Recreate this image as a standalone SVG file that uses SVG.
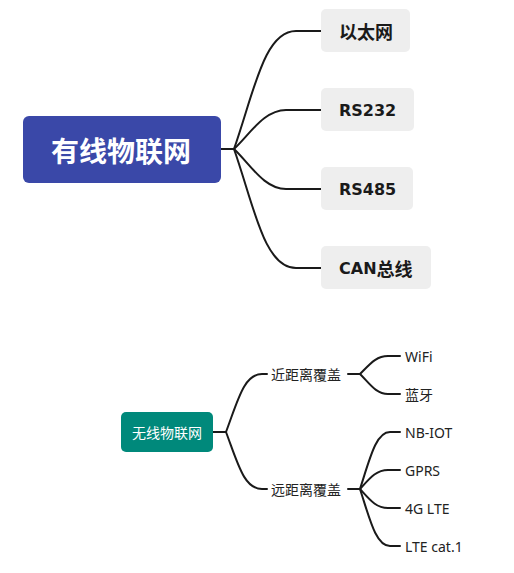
<svg xmlns="http://www.w3.org/2000/svg" width="514" height="573" viewBox="0 0 514 573">
<style>
.conn{fill:none;stroke:#1a1a1a;stroke-width:2;stroke-linecap:round}
.leaf{fill:#eeeeee}
.t1{font-family:"DejaVu Sans","Noto Sans CJK SC",sans-serif;font-weight:bold;font-size:16px;fill:#1a1a1a;dominant-baseline:central}
.cj{font-family:"Noto Sans CJK SC",sans-serif;font-size:18px}
.t2{font-family:"Noto Sans","Noto Sans CJK SC",sans-serif;font-size:14px;fill:#222;dominant-baseline:central}
.root{font-family:"Noto Sans CJK SC","Noto Sans",sans-serif;fill:#fff;dominant-baseline:central;text-anchor:middle}
</style>
<rect width="514" height="573" fill="#fff"/>
<g id="connectors">
<path class="conn" d="M221,149 H234 C254,92 264,31 296,31 H321"/>
<path class="conn" d="M234,149 C250,134 264,110 286,110 H321"/>
<path class="conn" d="M234,149 C250,164 264,189 286,189 H321"/>
<path class="conn" d="M234,149 C254,206 264,268 296,268 H321"/>
<path class="conn" d="M213,432 H226 C238,400 244,374 262,374 H267"/>
<path class="conn" d="M226,432 C238,464 244,489 262,489 H267"/>
<path class="conn" d="M348,374 H360 C370,364 376,356 388,356 H400"/>
<path class="conn" d="M360,374 C370,384 376,394 388,394 H400"/>
<path class="conn" d="M348,489 H360 C370,458 376,432 390,432 H400"/>
<path class="conn" d="M360,489 C370,478 376,470 388,470 H400"/>
<path class="conn" d="M360,489 C370,500 376,508 388,508 H400"/>
<path class="conn" d="M360,489 C370,520 376,546 390,546 H400"/>
</g>
<g id="wired">
<rect x="23" y="116" width="198" height="67" rx="6" fill="#3a48a8"/>
<text class="root" x="121" y="150" font-size="28" font-weight="bold">有线物联网</text>
</g>
<g id="ethernet"><rect class="leaf" x="321" y="9" width="89" height="43" rx="5"/><text class="t1" x="339" y="31"><tspan class="cj">以太网</tspan></text></g>
<g id="rs232"><rect class="leaf" x="321" y="88" width="93" height="43" rx="5"/><text class="t1" x="339" y="110">RS232</text></g>
<g id="rs485"><rect class="leaf" x="321" y="167" width="92" height="43" rx="5"/><text class="t1" x="339" y="189">RS485</text></g>
<g id="can"><rect class="leaf" x="321" y="246" width="110" height="43" rx="5"/><text class="t1" x="339" y="268">CAN<tspan class="cj">总线</tspan></text></g>
<g id="wireless">
<rect x="121" y="412" width="92" height="40" rx="5" fill="#00897b"/>
<text class="root" x="167" y="432" font-size="14">无线物联网</text>
</g>
<g id="short"><text class="t2" x="271" y="374">近距离覆盖</text></g>
<g id="long"><text class="t2" x="271" y="489">远距离覆盖</text></g>
<g id="wifi"><text class="t2" x="405" y="356">WiFi</text></g>
<g id="bt"><text class="t2" x="405" y="394">蓝牙</text></g>
<g id="nbiot"><text class="t2" x="405" y="432">NB-IOT</text></g>
<g id="gprs"><text class="t2" x="405" y="470">GPRS</text></g>
<g id="lte4g"><text class="t2" x="405" y="508">4G LTE</text></g>
<g id="ltecat"><text class="t2" x="405" y="546">LTE cat.1</text></g>
</svg>
